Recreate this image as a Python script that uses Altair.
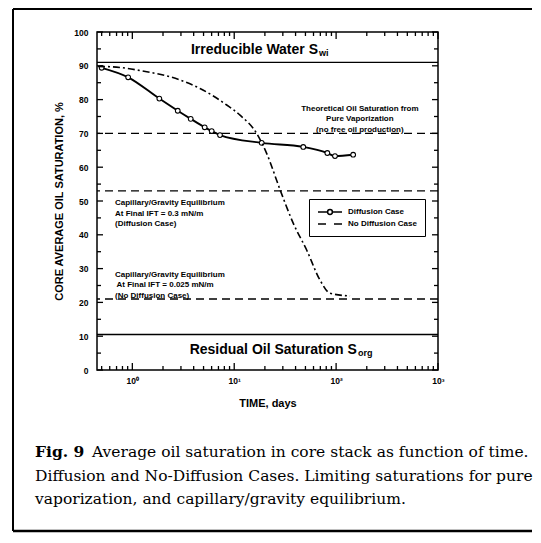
import altair as alt
import pandas as pd

# ---------------- data ----------------
series_names = ["Diffusion Case", "No Diffusion Case"]

diff_days = [0.50, 0.91, 1.84, 2.79, 3.74, 5.13, 6.01, 7.25, 18.6, 47.6, 82, 97.5, 147]
diff_sat = [89.4, 86.6, 80.3, 76.7, 74.3, 71.8, 70.7, 69.5, 67.2, 66.0, 64.2, 63.3, 63.7]

nodiff_days = [0.46, 0.63, 1.19, 2.94, 4.61, 8.44, 11.4, 16.6, 20.8, 28.2, 38.0, 51.4, 69.5, 87.1, 137]
nodiff_sat = [89.8, 89.7, 88.6, 85.8, 83.3, 78.4, 75.4, 70.0, 64.1, 53.3, 43.4, 35.5, 26.6, 22.7, 21.9]

solid_limits = [91.0, 10.5]
dashed_limits = [70.0, 53.0, 21.0]

x_domain = [0.45, 1000]
y_domain = [0, 100]
x_major = [1, 10, 100, 1000]
x_minor = [0.5, 0.6, 0.7, 0.8, 0.9, 2, 3, 4, 5, 6, 7, 8, 9,
           20, 30, 40, 50, 60, 70, 80, 90, 200, 300, 400, 500, 600, 700, 800, 900]
y_major = [0, 10, 20, 30, 40, 50, 60, 70, 80, 90, 100]
y_minor = [5, 15, 25, 35, 45, 55, 65, 75, 85, 95]

theory_lines = ["Theoretical Oil Saturation from", "Pure Vaporization", "(no free oil production)"]
theory_sat = [77.2, 74.3, 71.0]
theory_day = [171, 171, 171]

cap_lines = ["Capillary/Gravity Equilibrium", "At Final IFT = 0.3 mN/m", "(Diffusion Case)",
             "Capillary/Gravity Equilibrium", "At Final IFT = 0.025 mN/m", "(No Diffusion Case)"]
cap_sat = [49.5, 46.2, 43.2, 28.1, 25.1, 21.9]
cap_day = [0.676, 0.676, 0.676, 0.676, 0.70, 0.676]

region_main = ["Irreducible Water S", "Residual Oil Saturation S"]
region_sub = ["wi", "org"]
region_day = [66.4, 160]
region_sat = [94.7, 5.9]

caption_bold = "Fig. 9"
caption_line1 = "Average oil saturation in core stack as function of time."
caption_rest = "Diffusion and No-Diffusion Cases. Limiting saturations for pure\nvaporization, and capillary/gravity equilibrium."

# ---------------- layout ----------------
W, H = 341, 338
FONT = "Liberation Sans"
SERIF = "DejaVu Serif"

xs = alt.Scale(type="log", domain=x_domain, nice=False)
ys = alt.Scale(domain=y_domain, nice=False, zero=False)

diff_df = pd.DataFrame({"t": diff_days, "s": diff_sat})
nodiff_df = pd.DataFrame({"t": nodiff_days, "s": nodiff_sat})
solid_df = pd.DataFrame({"s": solid_limits})
dashed_df = pd.DataFrame({"s": dashed_limits})
theory_df = pd.DataFrame({"t": theory_day, "s": theory_sat, "txt": theory_lines})
cap_df = pd.DataFrame({"t": cap_day, "s": cap_sat, "txt": cap_lines})
region_df = pd.DataFrame({"t": region_day, "s": region_sat, "main": region_main, "sub": region_sub})
legend_df = pd.DataFrame({"series": series_names, "t": [0.1, 0.1], "s": [50, 50]})
one = pd.DataFrame({"a": [0]})

label_expr = ("'10' + (datum.value == 1 ? '\u2070' : datum.value == 10 ? '\u00b9' : "
              "datum.value == 100 ? '\u00b2' : '\u00b3')")

# main layer carries the labelled axes
diff_line = alt.Chart(diff_df).mark_line(color="black", strokeWidth=1.9, interpolate="monotone").encode(
    x=alt.X("t:Q", scale=xs, title="TIME, days",
            axis=alt.Axis(orient="bottom", values=x_major, labelExpr=label_expr, ticks=False,
                          domain=False, grid=False, labelFontSize=8.5, labelFontWeight="bold",
                          labelPadding=6, labelFlush=False, labelOverlap=False,
                          titleFontSize=11, titleFontWeight="bold", titlePadding=13)),
    y=alt.Y("s:Q", scale=ys, title="CORE AVERAGE OIL SATURATION, %",
            axis=alt.Axis(orient="left", values=y_major, ticks=False, domain=False, grid=False,
                          labelFontSize=8.5, labelFontWeight="bold", labelPadding=9,
                          titleFontSize=11, titleFontWeight="bold", titlePadding=9)))


def x_ticks(vals, y0, y1):
    return alt.Chart(pd.DataFrame({"v": vals})).mark_rule(color="black", strokeWidth=1.3).encode(
        x=alt.X("v:Q", scale=xs, axis=None), y=alt.value(y0), y2=alt.value(y1))


def y_ticks(vals, x0, x1):
    return alt.Chart(pd.DataFrame({"v": vals})).mark_rule(color="black", strokeWidth=1.3).encode(
        y=alt.Y("v:Q", scale=ys, axis=None), x=alt.value(x0), x2=alt.value(x1))


tick_layers = [
    x_ticks(x_major, H, H - 7), x_ticks(x_minor, H, H - 4),
    x_ticks(x_major, 0, 7), x_ticks(x_minor, 0, 4),
    y_ticks(y_major, 0, 6), y_ticks(y_minor, 0, 4),
    y_ticks(y_major, W, W - 6), y_ticks(y_minor, W, W - 4),
]

# outer figure frame: top, left and bottom edges (right edge is cut off in the scan)
frame_top = alt.Chart(one).mark_rule(color="black", strokeWidth=2).encode(
    x=alt.value(-84), x2=alt.value(W + 94), y=alt.value(-23))
frame_left = alt.Chart(one).mark_rule(color="black", strokeWidth=2).encode(
    x=alt.value(-84), y=alt.value(-23), y2=alt.value(499))
frame_bottom = alt.Chart(one).mark_rule(color="black", strokeWidth=2.5).encode(
    x=alt.value(-84), x2=alt.value(W + 94), y=alt.value(499))

rules_solid = alt.Chart(solid_df).mark_rule(color="black", strokeWidth=1.4).encode(
    y=alt.Y("s:Q", scale=ys, axis=None))

rules_dashed = alt.Chart(dashed_df).mark_rule(color="black", strokeWidth=1.3, strokeDash=[8, 5]).encode(
    y=alt.Y("s:Q", scale=ys, axis=None))

diff_pts = alt.Chart(diff_df).mark_point(shape="circle", filled=True, fill="white", stroke="black",
                                         strokeWidth=1.1, size=22, opacity=1).encode(
    x=alt.X("t:Q", scale=xs, axis=None),
    y=alt.Y("s:Q", scale=ys, axis=None))

nodiff_line = alt.Chart(nodiff_df).mark_line(color="black", strokeWidth=1.6, strokeDash=[7, 3, 2, 3],
                                             interpolate="monotone").encode(
    x=alt.X("t:Q", scale=xs, axis=None),
    y=alt.Y("s:Q", scale=ys, axis=None))

theory_txt = alt.Chart(theory_df).mark_text(font=FONT, fontWeight="bold", fontSize=8, align="center",
                                            baseline="middle", color="black").encode(
    x=alt.X("t:Q", scale=xs, axis=None), y=alt.Y("s:Q", scale=ys, axis=None), text="txt:N")

cap_txt = alt.Chart(cap_df).mark_text(font=FONT, fontWeight="bold", fontSize=8, align="left",
                                      baseline="middle", color="black").encode(
    x=alt.X("t:Q", scale=xs, axis=None), y=alt.Y("s:Q", scale=ys, axis=None), text="txt:N")

region_txt = alt.Chart(region_df).mark_text(font=FONT, fontWeight="bold", fontSize=14, align="right",
                                            baseline="middle", color="black").encode(
    x=alt.X("t:Q", scale=xs, axis=None), y=alt.Y("s:Q", scale=ys, axis=None), text="main:N")

region_sub_txt = alt.Chart(region_df).mark_text(font=FONT, fontWeight="bold", fontSize=9, align="left",
                                                baseline="middle", color="black", dx=1, dy=3).encode(
    x=alt.X("t:Q", scale=xs, axis=None), y=alt.Y("s:Q", scale=ys, axis=None), text="sub:N")

path_diff = "M-1,0H1.4M2.6,0H5M2.6,0A0.6,0.6,0,1,1,1.4,0A0.6,0.6,0,1,1,2.6,0"
path_nodiff = "M-1,0H1M3,0H5"

legend_layer = alt.Chart(legend_df).mark_point(clip=True, filled=False, size=64, color="black").encode(
    x=alt.X("t:Q", scale=xs, axis=None),
    y=alt.Y("s:Q", scale=ys, axis=None),
    shape=alt.Shape("series:N",
                    scale=alt.Scale(domain=series_names, range=[path_diff, path_nodiff]),
                    legend=alt.Legend(title=None, orient="none", legendX=212, legendY=167,
                                      direction="vertical", strokeColor="black", fillColor="white",
                                      padding=8, labelFont=FONT, labelFontSize=8,
                                      labelFontWeight="bold", labelColor="black", labelOffset=21,
                                      labelLimit=300, rowPadding=1, symbolSize=64,
                                      symbolStrokeColor="black", symbolStrokeWidth=1.5,
                                      symbolFillColor="white", symbolOpacity=1)))

cap_bold = alt.Chart(one).mark_text(font=SERIF, fontWeight="bold", fontSize=15.5, align="left",
                                    baseline="middle", color="black").encode(
    x=alt.value(-62), y=alt.value(420), text=alt.value(caption_bold))

cap_l1 = alt.Chart(one).mark_text(font=SERIF, fontSize=15.5, align="left",
                                  baseline="middle", color="black").encode(
    x=alt.value(-5), y=alt.value(420), text=alt.value(caption_line1))

cap_l23 = alt.Chart(one).mark_text(font=SERIF, fontSize=15.5, align="left", baseline="middle",
                                   color="black", lineBreak="\n", lineHeight=23).encode(
    x=alt.value(-62), y=alt.value(444), text=alt.value(caption_rest))

chart = alt.layer(
    diff_line, frame_top, frame_left, frame_bottom, rules_solid, rules_dashed, *tick_layers,
    diff_pts, nodiff_line, theory_txt, cap_txt, region_txt, region_sub_txt, legend_layer,
    cap_bold, cap_l1, cap_l23,
).resolve_axis(x="independent", y="independent").properties(
    width=W, height=H,
    autosize=alt.AutoSizeParams(type="none"),
    padding={"left": 89, "top": 24, "right": 95, "bottom": 163},
    background="white",
).configure_view(stroke="black", strokeWidth=1.5).configure_axis(
    labelFont=FONT, titleFont=FONT, labelColor="black", titleColor="black"
)

chart.save("out.html", embed_options={"renderer": "svg", "actions": False})
